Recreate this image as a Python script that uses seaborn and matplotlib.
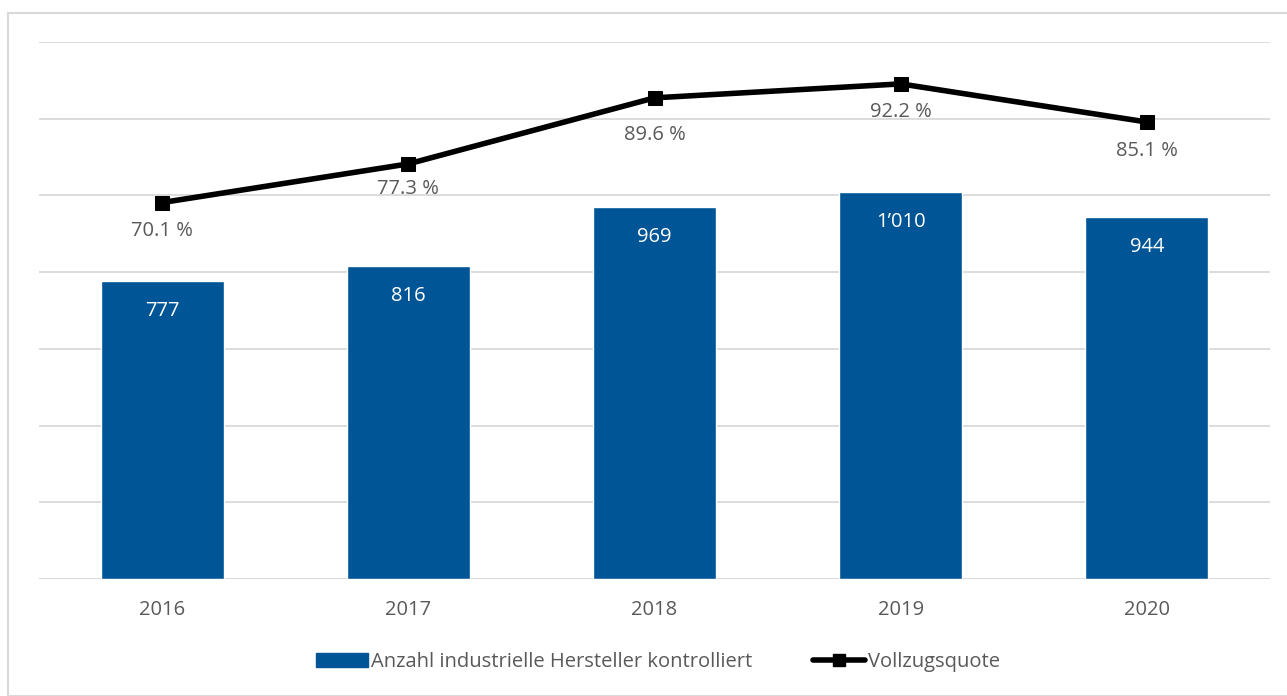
import matplotlib
matplotlib.use("Agg")
import matplotlib.pyplot as plt
import seaborn as sns
import pandas as pd
from matplotlib.patches import Rectangle
from matplotlib.lines import Line2D
from matplotlib.patches import Patch

years = ["2016", "2017", "2018", "2019", "2020"]
hersteller = [777, 816, 969, 1010, 944]
quote = [70.1, 77.3, 89.6, 92.2, 85.1]
bar_labels = ["777", "816", "969", "1\u2019010", "944"]
line_labels = ["70.1 %", "77.3 %", "89.6 %", "92.2 %", "85.1 %"]

sns.set_theme(style="white")
plt.rcParams['font.family'] = ['Open Sans', 'DejaVu Sans']

BLUE = "#005596"
GRAY = "#595959"
FS = 14.5

fig = plt.figure(figsize=(12.87, 6.96), dpi=100)
W, H = 1287, 696
ax = fig.add_axes([39 / W, 1 - 579 / H, (1270 - 39) / W, (579 - 42) / H])

df = pd.DataFrame({"year": years, "n": hersteller, "q": quote})
sns.barplot(data=df, x="year", y="n", color=BLUE, width=0.5, saturation=1, ax=ax, zorder=2)
ax.set_ylim(0, 1400)
ax.set_yticks(range(0, 1401, 200))
ax.yaxis.grid(True, color="#d9d9d9", linewidth=1.3, zorder=0)
ax.set_axisbelow(True)
ax.set_yticklabels([])
ax.tick_params(axis="y", length=0)
ax.tick_params(axis="x", length=0, labelsize=FS, labelcolor=GRAY, pad=15)
ax.set_xlabel("")
ax.set_ylabel("")
for s in ax.spines.values():
    s.set_visible(False)
ax.set_xlim(-0.5, 4.5)

for i, (v, lab) in enumerate(zip(hersteller, bar_labels)):
    ax.annotate(lab, (i, v), xytext=(0, -30), textcoords="offset pixels",
                ha="center", va="center", color="white", fontsize=FS)

ax2 = ax.twinx()
sns.lineplot(x=list(range(len(years))), y=quote, ax=ax2, color="black", linewidth=4,
             marker="s", markersize=10, markeredgecolor="black", zorder=5)
ax2.set_ylim(0, 100)
ax2.set_yticks([])
for s in ax2.spines.values():
    s.set_visible(False)
ax2.set_xlim(-0.5, 4.5)
label_offsets = [-28, -25, -37, -28, -29]
for i, (v, lab) in enumerate(zip(quote, line_labels)):
    ax2.annotate(lab, (i, v), xytext=(0, label_offsets[i]), textcoords="offset pixels",
                 ha="center", va="center", color=GRAY, fontsize=FS)

# baseline
ax.axhline(0, color="#d9d9d9", linewidth=1.3, zorder=1)

# legend
handles = [Patch(facecolor=BLUE, edgecolor=BLUE),
           Line2D([0], [0], color="black", linewidth=4, marker="s", markersize=9)]
fig.legend(handles, ["Anzahl industrielle Hersteller kontrolliert", "Vollzugsquote"],
           loc="center", bbox_to_anchor=(658 / W, 1 - 662 / H), ncol=2, frameon=False,
           fontsize=FS, labelcolor=GRAY, handlelength=2.6, handleheight=0.75,
           handletextpad=0.15, columnspacing=3.0)

# outer border
fig.patches.append(Rectangle((8 / W, 0), 1.2, 1 - 13 / H, transform=fig.transFigure,
                             fill=False, edgecolor="#d9d9d9", linewidth=1.5))

fig.savefig("out.png", dpi=100)
